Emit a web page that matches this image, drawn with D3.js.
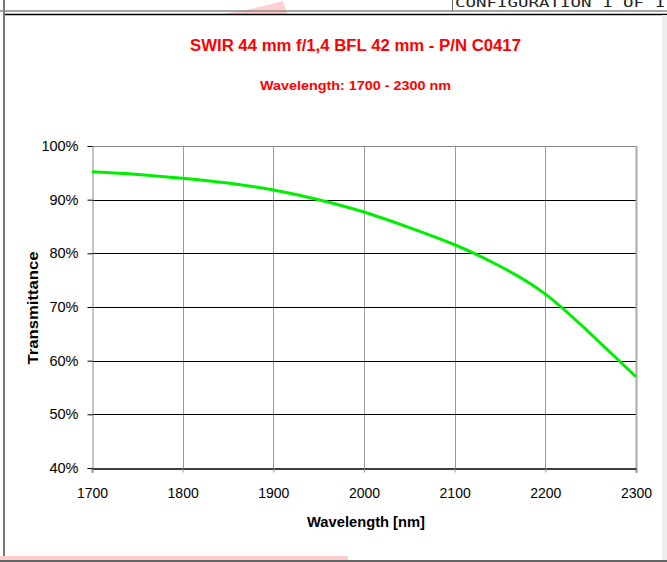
<!DOCTYPE html>
<html>
<head>
<meta charset="utf-8">
<script src="https://cdn.jsdelivr.net/npm/d3@7"></script>
<style>
  body { margin: 0; background: #fff; }
  text { font-family: "Liberation Sans", Arial, sans-serif; }
</style>
</head>
<body>
<script>
// wavelength (nm) and transmittance (%)
const wavelengths = [1700, 1750, 1800, 1850, 1900, 1950, 2000, 2050, 2100, 2150, 2200, 2250, 2300]
const transmittance = [95.2, 94.7, 94.0, 93.1, 91.8, 90.0, 87.7, 84.8, 81.6, 77.6, 72.4, 65.0, 57.0]
const xTicks = [1700, 1800, 1900, 2000, 2100, 2200, 2300]
const yTicks = [40, 50, 60, 70, 80, 90, 100]

const m = { width: 667, height: 562 }
const plot = { left: 92, right: 636, top: 146, bottom: 468 }

const svg = d3.select('body').append('svg')
    .attr('width', m.width)
    .attr('height', m.height)

// page frame bits
svg.append('rect').attr('x', 3).attr('y', 0).attr('width', 2).attr('height', m.height).attr('fill', '#777')
svg.append('path').attr('d', 'M223,14 Q258,8 283,1 L287,14 Z').attr('fill', '#ffd0d0')
svg.append('line').attr('x1', 0).attr('x2', m.width).attr('y1', 11).attr('y2', 11).attr('stroke', '#888').attr('stroke-width', 1.5)
svg.append('line').attr('x1', 5).attr('x2', m.width).attr('y1', 14.5).attr('y2', 14.5).attr('stroke', '#000').attr('stroke-width', 1.5)
svg.append('line').attr('x1', 452.5).attr('x2', 452.5).attr('y1', 0).attr('y2', 11).attr('stroke', '#666')
svg.append('text').attr('x', 455).attr('y', 7)
    .style('font-family', '"DejaVu Sans Mono", monospace').style('font-size', '13px')
    .attr('fill', '#222').attr('textLength', 210).attr('lengthAdjust', 'spacingAndGlyphs')
    .text('CONFIGURATION 1 OF 1')
svg.append('rect').attr('x', 662).attr('y', 15).attr('width', 5).attr('height', 545).attr('fill', '#eee')
svg.append('rect').attr('x', 0).attr('y', 556).attr('width', 348).attr('height', 4).attr('fill', '#ffcccc')
svg.append('line').attr('x1', 0).attr('x2', m.width).attr('y1', 561).attr('y2', 561).attr('stroke', '#666').attr('stroke-width', 2)

const x = d3.scaleLinear().domain([1700, 2300]).range([plot.left, plot.right])
const y = d3.scaleLinear().domain([40, 100]).range([plot.bottom, plot.top])

const g = svg.append('g')

// vertical grid
g.selectAll('.vgrid')
    .data(xTicks.slice(1, -1))
    .enter()
    .append('line')
    .attr('x1', d => Math.round(x(d)) + 0.5)
    .attr('x2', d => Math.round(x(d)) + 0.5)
    .attr('y1', plot.top)
    .attr('y2', plot.bottom)
    .attr('stroke', '#999')

// horizontal grid
g.selectAll('.hgrid')
    .data(yTicks.slice(1, -1))
    .enter()
    .append('line')
    .attr('x1', plot.left)
    .attr('x2', plot.right)
    .attr('y1', d => Math.round(y(d)) + 0.5)
    .attr('y2', d => Math.round(y(d)) + 0.5)
    .attr('stroke', '#000')

// plot border
g.append('line').attr('x1', plot.left).attr('x2', plot.right).attr('y1', plot.top + 0.5).attr('y2', plot.top + 0.5).attr('stroke', '#888')
g.append('line').attr('x1', plot.right + 0.5).attr('x2', plot.right + 0.5).attr('y1', plot.top).attr('y2', plot.bottom).attr('stroke', '#aaa').attr('stroke-width', 2)

// axes
const xAxis = d3.axisBottom(x).tickValues(xTicks).tickSize(4).tickFormat(d3.format('d'))
const yAxis = d3.axisLeft(y).tickValues(yTicks).tickSize(5).tickFormat(d => d + '%')

const gx = g.append('g')
    .attr('transform', `translate(0,${plot.bottom + 0.5})`)
    .call(xAxis)
gx.select('.domain').attr('stroke', '#000').attr('stroke-width', 1.5)
gx.selectAll('.tick line').attr('stroke', '#999')
gx.selectAll('.tick text')
    .attr('y', 20)
    .style('font-size', '14px')
    .attr('fill', '#000')

const gy = g.append('g')
    .attr('transform', `translate(${plot.left + 0.5},0)`)
    .call(yAxis)
gy.select('.domain').attr('stroke', '#888')
gy.selectAll('.tick line').attr('stroke', '#000')
gy.selectAll('.tick text')
    .attr('x', -14)
    .style('font-size', '14.5px')
    .attr('fill', '#000')

// curve
const line = d3.line()
    .x((d, i) => x(d))
    .y((d, i) => y(transmittance[i]))
    .curve(d3.curveNatural)

g.append('path')
    .datum(wavelengths)
    .attr('fill', 'none')
    .attr('stroke', '#00ee00')
    .attr('stroke-width', 3)
    .attr('d', line)

// titles
svg.append('text')
    .attr('x', 355.5).attr('y', 51)
    .attr('text-anchor', 'middle')
    .attr('fill', '#ff0000')
    .attr('textLength', 331).attr('lengthAdjust', 'spacingAndGlyphs')
    .style('font-size', '16px').style('font-weight', 'bold')
    .text('SWIR 44 mm f/1,4 BFL 42 mm - P/N C0417')

svg.append('text')
    .attr('x', 355.5).attr('y', 90)
    .attr('text-anchor', 'middle')
    .attr('fill', '#ff0000')
    .attr('textLength', 191).attr('lengthAdjust', 'spacingAndGlyphs')
    .style('font-size', '13px').style('font-weight', 'bold')
    .text('Wavelength: 1700 - 2300 nm')

svg.append('text')
    .attr('x', 366).attr('y', 527)
    .attr('text-anchor', 'middle')
    .attr('textLength', 118).attr('lengthAdjust', 'spacingAndGlyphs')
    .style('font-size', '14px').style('font-weight', 'bold')
    .text('Wavelength [nm]')

svg.append('text')
    .attr('transform', 'translate(38,308) rotate(-90)')
    .attr('text-anchor', 'middle')
    .attr('textLength', 113).attr('lengthAdjust', 'spacingAndGlyphs')
    .style('font-size', '14px').style('font-weight', 'bold')
    .text('Transmittance')
</script>
</body>
</html>
